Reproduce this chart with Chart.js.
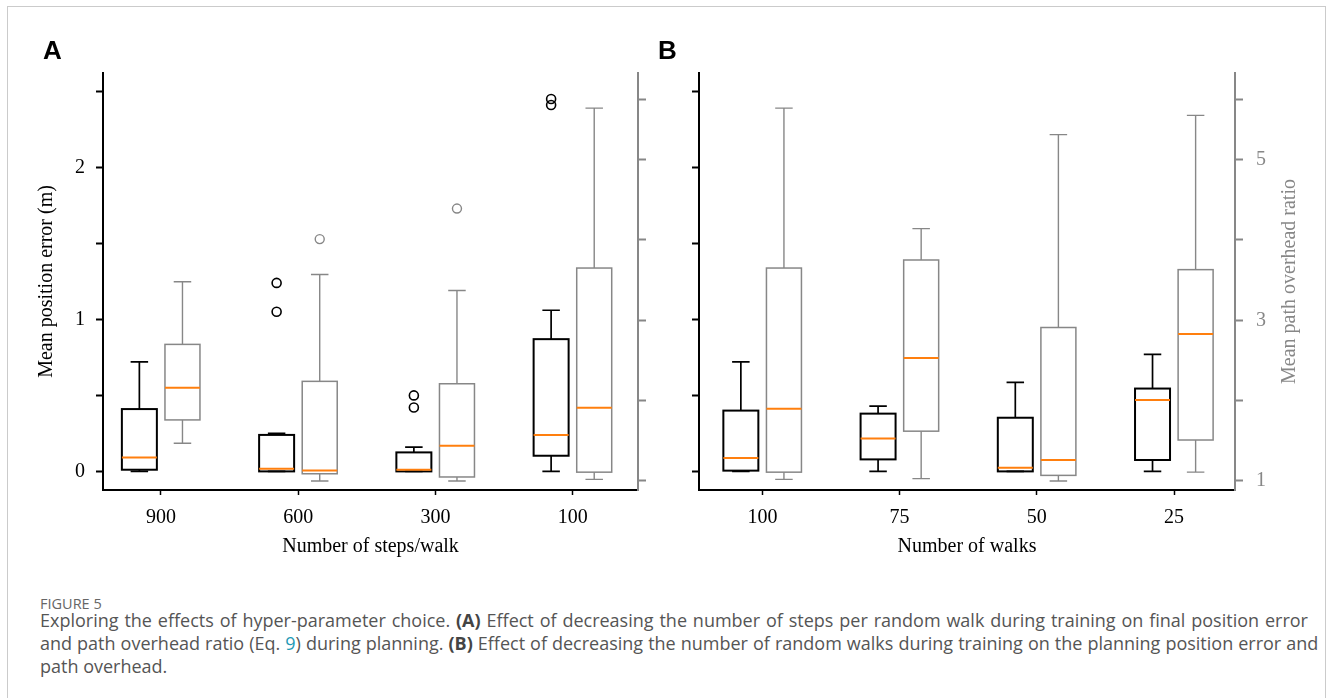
<!DOCTYPE html>
<html>
<head>
<meta charset="utf-8">
<script src="https://cdn.jsdelivr.net/npm/chart.js@4.4.1/dist/chart.umd.min.js"></script>
<style>
	body { margin: 0; width: 1331px; height: 698px; overflow: hidden; position: relative; background: #fff; }
	.card { position: absolute; left: 7px; top: 6px; width: 1317px; height: 720px; border: 1px solid #cbcbcb; }
	canvas { position: absolute; top: 0; }
	#chartA { left: 0; }
	#chartB { left: 665px; }
	.panel { position: absolute; top: 37px; font: bold 26px "Liberation Sans", Arial, sans-serif; line-height: 26px; color: #000; }
	.fig { position: absolute; left: 40px; top: 594px; font: 14.5px "Open Sans", sans-serif; color: #666; }
	.cap { position: absolute; left: 40px; top: 609px; font: 18px/23px "Open Sans", sans-serif; color: #555; white-space: nowrap; }
	.cap b { color: #444; }
	.cap .ref { color: #1d9ab6; }
	.l1 { word-spacing: 1.2px; }
	.l2 { word-spacing: 0.35px; }
</style>
</head>
<body>
<div class="card"></div>
<canvas id="chartA" width="665" height="575"></canvas>
<canvas id="chartB" width="666" height="575"></canvas>
<div class="panel" style="left:43px">A</div>
<div class="panel" style="left:658px">B</div>
<div class="fig">FIGURE 5</div>
<div class="cap"><span class="l1">Exploring the effects of hyper-parameter choice. <b>(A)</b> Effect of decreasing the number of steps per random walk during training on final position error</span><br><span class="l2">and path overhead ratio (Eq. <span class="ref">9</span>) during planning. <b>(B)</b> Effect of decreasing the number of random walks during training on the planning position error and</span><br>path overhead.</div>
<script>
// each row: [whisker low, Q1, median, Q3, whisker high]
var stepLabels = ["900", "600", "300", "100"];
var stepError = [
	[0.0, 0.011, 0.092, 0.41, 0.72],
	[0.0, 0.0, 0.018, 0.24, 0.25],
	[0.0, 0.0, 0.011, 0.125, 0.16],
	[0.0, 0.103, 0.24, 0.87, 1.06],
];
var stepErrorOut = [[], [1.05, 1.24], [0.42, 0.5], [2.41, 2.45]];
var stepRatio = [
	[1.47, 1.76, 2.16, 2.70, 3.48],
	[1.0, 1.09, 1.13, 2.24, 3.57],
	[1.0, 1.05, 1.44, 2.21, 3.37],
	[1.02, 1.11, 1.91, 3.65, 5.64],
];
var stepRatioOut = [[], [4.01], [4.39], []];

var walkLabels = ["100", "75", "50", "25"];
var walkError = [
	[0.0, 0.005, 0.088, 0.40, 0.72],
	[0.0, 0.079, 0.217, 0.38, 0.43],
	[0.0, 0.0, 0.024, 0.353, 0.585],
	[0.0, 0.075, 0.47, 0.545, 0.77],
];
var walkErrorOut = [[], [], [], []];
var walkRatio = [
	[1.02, 1.11, 1.90, 3.65, 5.64],
	[1.03, 1.62, 2.53, 3.75, 4.14],
	[1.0, 1.07, 1.26, 2.91, 5.31],
	[1.11, 1.51, 2.83, 3.63, 5.55],
];
var walkRatioOut = [[], [], [], []];

var errorTicks = [0, 0.5, 1, 1.5, 2, 2.5];
var ratioTicks = [1, 2, 3, 4, 5, 5.75];

var SHIFT = 0.157;
var BOXW = 0.255;
var GREY = "#878787";
var serif = "'Liberation Serif', 'Times New Roman', serif";

var boxPlugin = {
	id: "boxes",
	afterDatasetsDraw: function (chart, args, opts) {
		var ctx = chart.ctx;
		var x = chart.scales.x;
		var half = (x.getPixelForValue(BOXW) - x.getPixelForValue(0)) / 2;
		opts.groups.forEach(function (g) {
			var y = chart.scales[g.axis];
			g.stats.forEach(function (s, i) {
				var cx = x.getPixelForValue(i + 1 + g.shift);
				var p = s.map(function (v) { return y.getPixelForValue(v); });
				ctx.save();
				ctx.strokeStyle = g.color;
				ctx.lineWidth = g.whisker;
				ctx.beginPath();
				ctx.moveTo(cx, p[3]); ctx.lineTo(cx, p[4]);
				ctx.moveTo(cx - half / 2, p[4]); ctx.lineTo(cx + half / 2, p[4]);
				ctx.moveTo(cx, p[1]); ctx.lineTo(cx, p[0]);
				ctx.moveTo(cx - half / 2, p[0]); ctx.lineTo(cx + half / 2, p[0]);
				ctx.stroke();
				ctx.lineWidth = g.box;
				ctx.strokeRect(cx - half, p[3], half * 2, p[1] - p[3]);
				ctx.strokeStyle = "#ff7f0e";
				ctx.lineWidth = 2;
				ctx.beginPath();
				ctx.moveTo(cx - half, p[2]); ctx.lineTo(cx + half, p[2]);
				ctx.stroke();
				ctx.restore();
			});
		});
	}
};

var sideTitle = {
	id: "sideTitle",
	afterDraw: function (chart, args, opts) {
		if (!opts.text) return;
		var ctx = chart.ctx;
		var a = chart.chartArea;
		ctx.save();
		ctx.translate(a.right + opts.offset, (a.top + a.bottom) / 2);
		ctx.rotate(-Math.PI / 2);
		ctx.font = "20px " + serif;
		ctx.fillStyle = GREY;
		ctx.textAlign = "center";
		ctx.textBaseline = "middle";
		ctx.fillText(opts.text, 0, 0);
		ctx.restore();
	}
};

function outliers(list, shift) {
	var pts = [];
	list.forEach(function (vals, i) {
		vals.forEach(function (v) { pts.push({ x: i + 1 + shift, y: v }); });
	});
	return pts;
}

function makeChart(id, labels, err, errOut, ratio, ratioOut, p) {
	return new Chart(document.getElementById(id), {
		type: "scatter",
		data: {
			datasets: [
				{
					data: outliers(errOut, -SHIFT),
					yAxisID: "y",
					pointRadius: 4.5,
					borderWidth: 1.6,
					borderColor: "#000",
					backgroundColor: "rgba(0,0,0,0)"
				},
				{
					data: outliers(ratioOut, SHIFT),
					yAxisID: "y2",
					pointRadius: 4.5,
					borderWidth: 1.4,
					borderColor: GREY,
					backgroundColor: "rgba(0,0,0,0)"
				},
			],
		},
		options: {
			responsive: false,
			animation: false,
			events: [],
			layout: { padding: { top: 73, left: 0, right: 0, bottom: 0 } },
			scales: {
				x: {
					type: "linear",
					min: p.xmin,
					max: p.xmax,
					afterFit: function (s) { s.height = 85; },
					afterBuildTicks: function (s) { s.ticks = labels.map(function (l, i) { return { value: i + 1 }; }); },
					grid: { drawOnChartArea: false, tickLength: 5, tickWidth: 1.5, tickColor: "#000" },
					border: { color: "#000", width: 2 },
					ticks: {
						padding: 11,
						color: "#000",
						font: { family: serif, size: 20 },
						callback: function (v) { return labels[Math.round(v) - 1]; }
					},
					title: {
						display: true,
						text: p.xTitle,
						color: "#000",
						font: { family: serif, size: 20 },
						padding: { top: 0, bottom: 16 }
					}
				},
				y: {
					type: "linear",
					position: "left",
					min: -0.1224,
					max: 2.621,
					afterFit: function (s) { s.width = p.leftW; },
					afterBuildTicks: function (s) { s.ticks = errorTicks.map(function (v) { return { value: v }; }); },
					grid: { drawOnChartArea: false, tickLength: 7, tickWidth: 2, tickColor: "#000" },
					border: { color: "#000", width: 2 },
					ticks: {
						padding: 11,
						color: "#000",
						font: { family: serif, size: 20 },
						callback: function (v) { return p.leftLabels && v % 1 === 0 ? String(v) : ""; }
					},
					title: {
						display: !!p.yTitle,
						text: p.yTitle,
						color: "#000",
						font: { family: serif, size: 20 },
						padding: { top: 34.5, bottom: 0 }
					}
				},
				y2: {
					type: "linear",
					position: "right",
					min: 0.888,
					max: 6.077,
					afterFit: function (s) { s.width = p.rightW; },
					afterBuildTicks: function (s) { s.ticks = ratioTicks.map(function (v) { return { value: v }; }); },
					grid: { drawOnChartArea: false, tickLength: 8, tickWidth: 2, tickColor: GREY },
					border: { color: GREY, width: 2 },
					ticks: {
						padding: 13,
						color: GREY,
						font: { family: serif, size: 20 },
						callback: function (v) { return p.rightLabels && (v === 1 || v === 3 || v === 5) ? String(v) : ""; }
					}
				}
			},
			plugins: {
				legend: { display: false },
				tooltip: { enabled: false },
				boxes: {
					groups: [
						{ stats: err, axis: "y", shift: -SHIFT, color: "#000", box: 2, whisker: 1.7 },
						{ stats: ratio, axis: "y2", shift: SHIFT, color: GREY, box: 1.5, whisker: 1.4 },
					]
				},
				sideTitle: { text: p.sideTitle, offset: 55 }
			}
		},
		plugins: [boxPlugin, sideTitle]
	});
}

var chartA = makeChart("chartA", stepLabels, stepError, stepErrorOut, stepRatio, stepRatioOut, {
	xmin: 0.578, xmax: 4.476, leftW: 103, rightW: 27,
	xTitle: "Number of steps/walk", yTitle: "Mean position error (m)",
	leftLabels: true, rightLabels: false, sideTitle: ""
});

var chartB = makeChart("chartB", walkLabels, walkError, walkErrorOut, walkRatio, walkRatioOut, {
	xmin: 0.538, xmax: 4.444, leftW: 34, rightW: 96,
	xTitle: "Number of walks", yTitle: "",
	leftLabels: false, rightLabels: true, sideTitle: "Mean path overhead ratio"
});
</script>
</body>
</html>
